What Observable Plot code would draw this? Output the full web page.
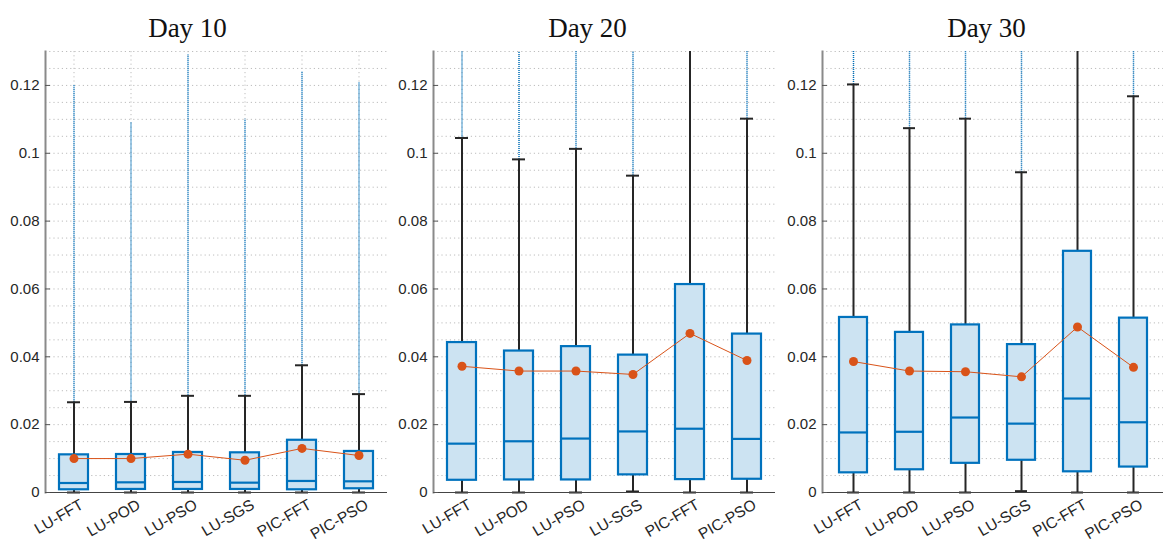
<!DOCTYPE html>
<html>
<head>
<meta charset="utf-8">
<script src="https://cdn.jsdelivr.net/npm/d3@7"></script>
<script src="https://cdn.jsdelivr.net/npm/@observablehq/plot@0.6"></script>
<style>
  html, body { margin: 0; padding: 0; background: #fff; }
  #wrap { position: relative; width: 1165px; height: 545px; overflow: hidden; }
  #wrap > div { position: absolute; top: 0; }
</style>
</head>
<body>
<div id="wrap"></div>
<script>
// ---- data ----
const categories = ["LU-FFT", "LU-POD", "LU-PSO", "LU-SGS", "PIC-FFT", "PIC-PSO"];
const dayTitles = ["Day 10", "Day 20", "Day 30"];
const yTickValues = [0, 0.02, 0.04, 0.06, 0.08, 0.1, 0.12];

// Day 10
const q1Day10 = [0.0008, 0.0009, 0.0009, 0.0009, 0.0008, 0.0011];
const medianDay10 = [0.0028, 0.0030, 0.0031, 0.0029, 0.0034, 0.0033];
const q3Day10 = [0.0111, 0.0112, 0.0118, 0.0117, 0.0154, 0.0121];
const whiskerLowDay10 = [0, 0, 0, 0, 0, 0];
const whiskerHighDay10 = [0.0266, 0.0267, 0.0285, 0.0285, 0.0375, 0.0290];
const meanDay10 = [0.0100, 0.0100, 0.0113, 0.0095, 0.0130, 0.0109];
const outlierMaxDay10 = [0.120, 0.109, 0.129, 0.110, 0.124, 0.121];

// Day 20
const q1Day20 = [0.0036, 0.0037, 0.0037, 0.0052, 0.0038, 0.0039];
const medianDay20 = [0.0144, 0.0151, 0.0159, 0.0180, 0.0188, 0.0158];
const q3Day20 = [0.0442, 0.0417, 0.0430, 0.0405, 0.0613, 0.0467];
const whiskerLowDay20 = [0, 0, 0, 0.0003, 0, 0];
const whiskerHighDay20 = [0.1045, 0.0982, 0.1013, 0.0934, 0.135, 0.1102];
const meanDay20 = [0.0372, 0.0358, 0.0358, 0.0348, 0.0469, 0.0389];
const outlierMaxDay20 = [0.135, 0.135, 0.135, 0.135, 0.135, 0.135];

// Day 30
const q1Day30 = [0.0058, 0.0067, 0.0086, 0.0095, 0.0061, 0.0075];
const medianDay30 = [0.0177, 0.0179, 0.0221, 0.0203, 0.0277, 0.0207];
const q3Day30 = [0.0516, 0.0472, 0.0494, 0.0436, 0.0711, 0.0514];
const whiskerLowDay30 = [0, 0, 0, 0.0004, 0, 0];
const whiskerHighDay30 = [0.1203, 0.1074, 0.1102, 0.0944, 0.135, 0.1168];
const meanDay30 = [0.0386, 0.0358, 0.0356, 0.0341, 0.0488, 0.0369];
const outlierMaxDay30 = [0.135, 0.135, 0.135, 0.135, 0.135, 0.135];

// ---- build tables ----
function table(q1, med, q3, lo, hi, mean, omax) {
  return categories.map((c, i) => ({
    cat: c, q1: q1[i], med: med[i], q3: q3[i], lo: lo[i], hi: hi[i], mean: mean[i], omax: omax[i]
  }));
}
const panels = [
  table(q1Day10, medianDay10, q3Day10, whiskerLowDay10, whiskerHighDay10, meanDay10, outlierMaxDay10),
  table(q1Day20, medianDay20, q3Day20, whiskerLowDay20, whiskerHighDay20, meanDay20, outlierMaxDay20),
  table(q1Day30, medianDay30, q3Day30, whiskerLowDay30, whiskerHighDay30, meanDay30, outlierMaxDay30)
];

const layout = [
  {left: 0,   width: 390, ml: 45, mr: 3, tdx: -29},
  {left: 390, width: 386, ml: 43, mr: 1, tdx: -17},
  {left: 775, width: 390, ml: 47, mr: 2, tdx: -6.5}
];

const gridValues = d3.range(0, 0.1301, 0.005).map(v => +v.toFixed(3));

const BLUE = "#0072BD", FILL = "#cce3f2", ORANGE = "#D95319", WHISK = "#262626", GRID = "#bdbdbd";
const SANS = "Liberation Sans, Arial, Helvetica, sans-serif";

const wrap = document.getElementById("wrap");
panels.forEach((data, k) => {
  const L = layout[k];
  const chart = Plot.plot({
    width: L.width,
    height: 545,
    marginLeft: L.ml,
    marginRight: L.mr,
    marginTop: 51,
    marginBottom: 53,
    style: {fontFamily: SANS, fontSize: "15px", color: "#262626", background: "white", overflow: "visible"},
    x: {type: "band", domain: categories, padding: 0, label: null, axis: null},
    y: {domain: [0, 0.13], label: null},
    marks: [
      Plot.ruleY(gridValues, {stroke: GRID, strokeDasharray: "1.2,3", strokeWidth: 1}),
      Plot.ruleX(categories, {stroke: GRID, strokeDasharray: "1.2,3", strokeWidth: 1}),
      Plot.ruleX(data, {x: "cat", y1: "hi", y2: "omax", stroke: BLUE, strokeWidth: 1.5, strokeDasharray: "1,1", clip: true}),
      Plot.ruleX(data, {x: "cat", y1: "lo", y2: "hi", stroke: WHISK, strokeWidth: 2, clip: true}),
      Plot.tickY(data, {x: "cat", y: "hi", stroke: WHISK, strokeWidth: 2, insetLeft: 22, insetRight: 22, clip: true}),
      Plot.tickY(data, {x: "cat", y: "lo", stroke: WHISK, strokeWidth: 2, insetLeft: 22, insetRight: 22}),
      Plot.barY(data, {x: "cat", y1: "q1", y2: "q3", fill: FILL, stroke: BLUE, strokeWidth: 2.2, insetLeft: 14, insetRight: 14}),
      Plot.tickY(data, {x: "cat", y: "med", stroke: BLUE, strokeWidth: 2.2, insetLeft: 14, insetRight: 14}),
      Plot.line(data, {x: "cat", y: "mean", stroke: ORANGE, strokeWidth: 1}),
      Plot.dot(data, {x: "cat", y: "mean", r: 4.5, fill: ORANGE, stroke: "none"}),
      Plot.ruleY([0], {stroke: "#444", strokeWidth: 1.2}),
      Plot.frame({anchor: "left", stroke: "#8a8a8a", strokeWidth: 2}),
      Plot.axisY(yTickValues, {tickSize: -5, tickPadding: 11, tickFormat: d => String(d), fontSize: 15, fill: "#262626", stroke: "#555"}),
      Plot.text(categories, {x: d => d, text: d => d, frameAnchor: "bottom", dx: 8, dy: 11, rotate: -30, textAnchor: "end", lineAnchor: "middle", fontSize: 15.5, fill: "#262626"}),
      Plot.text([dayTitles[k]], {frameAnchor: "top", dy: -34, dx: L.tdx, text: d => d, fontSize: 27, fontFamily: "Liberation Serif, Times New Roman, serif", fill: "#111"})
    ]
  });
  const holder = document.createElement("div");
  holder.style.left = L.left + "px";
  holder.appendChild(chart);
  wrap.appendChild(holder);
});
</script>
</body>
</html>
